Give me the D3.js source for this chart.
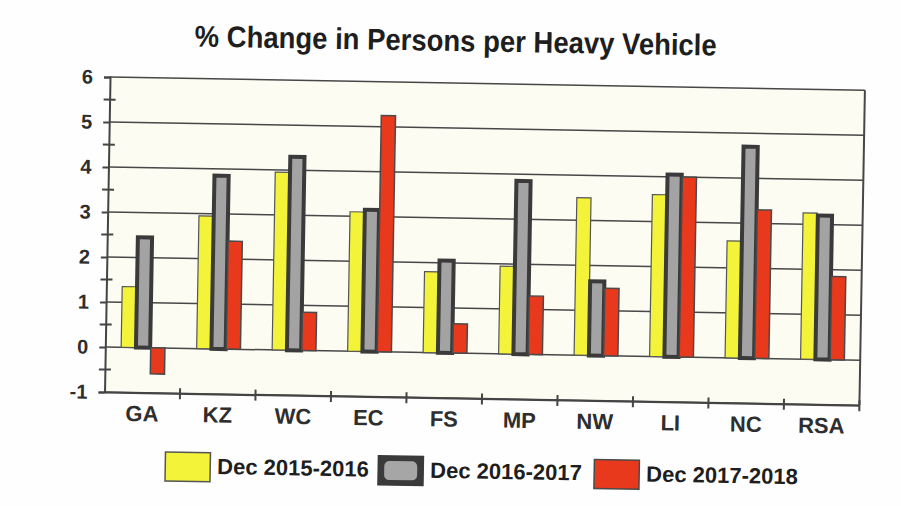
<!DOCTYPE html>
<html>
<head>
	<meta charset="utf-8">
	<title>% Change in Persons per Heavy Vehicle</title>
</head>
<body>

<svg class="chart"></svg>

<style type="text/css">
	body {
		margin: 0;
		background: #fefefe;
	}

	.chart {
		width: 901px;
		height: 506px;
		display: block;
		font-family: "Liberation Sans", Arial, sans-serif;
		font-weight: bold;
	}

	.chart .grid line {
		stroke: #474747;
		stroke-width: 1.5px;
	}

	.chart .axis path,
	.chart .axis line {
		stroke: #444;
		stroke-width: 2px;
	}

	.chart .axis text {
		fill: #2e2e2e;
		font-weight: bold;
	}
</style>

<script src="https://d3js.org/d3.v7.min.js"></script>
<script type="text/javascript">
	var regions = ['GA', 'KZ', 'WC', 'EC', 'FS', 'MP', 'NW', 'LI', 'NC', 'RSA']
	var series = ['Dec 2015-2016', 'Dec 2016-2017', 'Dec 2017-2018']
	var dec2015 = [1.35, 2.95, 3.95, 3.1, 1.8, 1.95, 3.5, 3.6, 2.6, 3.25]
	var dec2016 = [2.45, 3.85, 4.3, 3.15, 2.05, 3.85, 1.65, 4.05, 4.7, 3.2]
	var dec2017 = [-0.58, 2.4, 0.85, 5.25, 0.65, 1.3, 1.5, 4.0, 3.3, 1.85]
	var yTicks = [-1, 0, 1, 2, 3, 4, 5, 6]
	var title = '% Change in Persons per Heavy Vehicle'

	;(function() {
		'use strict'

		var values = [dec2015, dec2016, dec2017]
		var fills = ['#f3f33a', '#a3a3a3', '#e8391c']
		var strokes = ['#555', '#3a3a3a', '#4a4a4a']
		var strokeW = [1.2, 4, 1.5]

		var left = 107, right = 862, top = 83, bottom = 398

		var svg = d3.select('.chart')
			.attr('viewBox', [0, 0, 901, 506])

		// the scan is turned about one degree clockwise
		var g = svg.append('g')
			.attr('transform', 'rotate(1, 450, 253)')

		var x = d3.scaleBand()
			.domain(regions)
			.range([left, right])
			.paddingInner(0)
			.paddingOuter(0)

		var x1 = d3.scaleBand()
			.domain(series)
			.range([x.bandwidth() * 0.21, x.bandwidth() * 0.79])
			.paddingInner(0.04)

		var y = d3.scaleLinear()
			.domain([-1, 6])
			.range([bottom, top])

		g.append('rect')
			.attr('x', left)
			.attr('y', top)
			.attr('width', right - left)
			.attr('height', bottom - top)
			.attr('fill', '#fcfcf3')

		g.append('g')
			.attr('class', 'grid')
			.selectAll('line')
			.data(yTicks)
			.enter()
			.append('line')
			.attr('x1', left)
			.attr('x2', right)
			.attr('y1', function(d) { return y(d) })
			.attr('y2', function(d) { return y(d) })

		g.append('line')
			.attr('x1', right).attr('x2', right)
			.attr('y1', top).attr('y2', bottom)
			.attr('stroke', '#474747')
			.attr('stroke-width', 2)

		var groups = g.selectAll('.region')
			.data(regions)
			.enter()
			.append('g')
			.attr('class', 'region')
			.attr('transform', function(d) { return 'translate(' + x(d) + ',0)' })

		groups.selectAll('rect')
			.data(function(d, i) {
				return series.map(function(s, j) {
					return { key: s, j: j, v: values[j][i] }
				})
			})
			.enter()
			.append('rect')
			.attr('x', function(d) { return x1(d.key) })
			.attr('width', x1.bandwidth())
			.attr('y', function(d) { return y(Math.max(0, d.v)) })
			.attr('height', function(d) { return Math.abs(y(d.v) - y(0)) })
			.attr('fill', function(d) { return fills[d.j] })
			.attr('stroke', function(d) { return strokes[d.j] })
			.attr('stroke-width', function(d) { return strokeW[d.j] })

		// y axis: labelled whole units, small ticks at the halves
		var yAxis = g.append('g')
			.attr('class', 'axis')
			.attr('transform', 'translate(' + left + ',0)')
			.call(d3.axisLeft(y).tickValues(yTicks).tickSize(6).tickPadding(11)
				.tickFormat(function(d) { return d < 0 ? '-' + (-d) : String(d) }))

		yAxis.selectAll('text')
			.style('font-size', '20px')
			.attr('fill', '#262626')

		yAxis.selectAll('.minor')
			.data(d3.range(-0.5, 6, 1))
			.enter()
			.append('line')
			.attr('class', 'minor')
			.attr('x1', -6)
			.attr('x2', 6)
			.attr('y1', function(d) { return y(d) })
			.attr('y2', function(d) { return y(d) })

		// x axis with ticks between the regions
		var xAxis = g.append('g')
			.attr('class', 'axis')
			.attr('transform', 'translate(0,' + bottom + ')')
			.call(d3.axisBottom(x).tickSize(0).tickPadding(13))

		xAxis.selectAll('text')
			.style('font-size', '22px')
			.attr('fill', '#333')

		xAxis.selectAll('.sep')
			.data(regions.slice(1).concat(['end']))
			.enter()
			.append('line')
			.attr('class', 'sep')
			.attr('x1', function(d) { return d === 'end' ? right : x(d) })
			.attr('x2', function(d) { return d === 'end' ? right : x(d) })
			.attr('y1', -5)
			.attr('y2', 6)

		g.append('text')
			.attr('x', 452)
			.attr('y', 51)
			.attr('text-anchor', 'middle')
			.attr('textLength', 522)
			.attr('lengthAdjust', 'spacingAndGlyphs')
			.style('font-size', '30px')
			.attr('fill', '#1e1e1e')
			.text(title)

		// legend
		var legendX = [169, 382, 598]
		var legend = g.selectAll('.legend')
			.data(series)
			.enter()
			.append('g')
			.attr('class', 'legend')
			.attr('transform', function(d, i) { return 'translate(' + legendX[i] + ',457)' })

		legend.append('rect')
			.attr('width', 45)
			.attr('height', 29)
			.attr('fill', function(d, i) { return i === 1 ? '#3a3a3a' : fills[i] })
			.attr('stroke', function(d, i) { return strokes[i] })
			.attr('stroke-width', 1.5)

		legend.filter(function(d, i) { return i === 1 })
			.append('rect')
			.attr('x', 6)
			.attr('y', 5)
			.attr('width', 33)
			.attr('height', 19)
			.attr('rx', 5)
			.attr('fill', '#a6a6a6')

		legend.append('text')
			.attr('x', 52)
			.attr('y', 21)
			.style('font-size', '22px')
			.attr('fill', '#1e1e1e')
			.text(function(d) { return d })
	})()
</script>
</body>
</html>
